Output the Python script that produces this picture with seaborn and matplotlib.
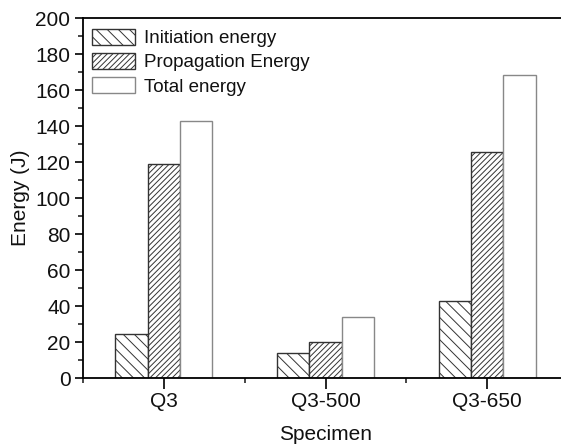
import matplotlib
matplotlib.use("Agg")
import matplotlib.pyplot as plt
import seaborn as sns
import pandas as pd
from matplotlib.patches import Patch
from matplotlib.ticker import MultipleLocator, FixedLocator

specimens = ["Q3", "Q3-500", "Q3-650"]
series = ["Initiation energy", "Propagation Energy", "Total energy"]
initiation = [24.4, 13.7, 42.8]
propagation = [118.7, 20.0, 125.7]
total = [142.8, 33.7, 168.3]

rows = []
for name, vals in zip(series, [initiation, propagation, total]):
    for s, v in zip(specimens, vals):
        rows.append({"Specimen": s, "Series": name, "Energy": v})
df = pd.DataFrame(rows)

sns.set_theme(style="ticks")
plt.rcParams["font.family"] = ["Liberation Sans", "DejaVu Sans"]
plt.rcParams["hatch.linewidth"] = 0.7

fig = plt.figure(figsize=(5.61, 4.45), dpi=100)
ax = fig.add_axes([83 / 561, 67 / 445, (568 - 83) / 561, (378 - 18) / 445])

sns.barplot(data=df, x="Specimen", y="Energy", hue="Series", order=specimens,
            hue_order=series, palette=["white"] * 3, width=0.6, ax=ax,
            legend=False, errorbar=None, saturation=1)

hatches = ["\\\\\\", "//////", ""]
edges = ["#333333", "#333333", "#888888"]
for cont, h, ec in zip(ax.containers, hatches, edges):
    for bar in cont:
        bar.set_hatch(h)
        bar.set_edgecolor(ec)
        bar.set_linewidth(1.0)
        bar.set_facecolor("white")

ax.set_xlim(-0.5, 2.5)
ax.set_ylim(0, 200)
ax.yaxis.set_major_locator(MultipleLocator(20))
ax.yaxis.set_minor_locator(MultipleLocator(10))
ax.xaxis.set_minor_locator(FixedLocator([-0.5, 0.5, 1.5, 2.5]))
ax.tick_params(axis="both", which="major", direction="out", length=6, width=1.2,
               labelsize=15, colors="black", labelcolor="#111111")
ax.tick_params(axis="both", which="minor", direction="out", length=3.5, width=1.2)
ax.tick_params(axis="x", which="major", length=8, pad=2)
ax.tick_params(axis="y", which="major", pad=3)
for sp in ax.spines.values():
    sp.set_linewidth(1.3)
    sp.set_color("black")

ax.set_xlabel("Specimen", fontsize=15, labelpad=10, color="#111111")
ax.set_ylabel("Energy (J)", fontsize=15, labelpad=4, color="#111111")

handles = [Patch(facecolor="white", edgecolor=ec, hatch=h, linewidth=1.0)
           for h, ec in zip(hatches, edges)]
ax.legend(handles, series, loc="upper left", frameon=False, fontsize=13.5,
          handlelength=2.3, handleheight=0.95, labelspacing=0.3,
          handletextpad=0.45, borderaxespad=0.0, bbox_to_anchor=(0.003, 0.991),
          labelcolor="#111111")

fig.savefig("out.png", dpi=100)
